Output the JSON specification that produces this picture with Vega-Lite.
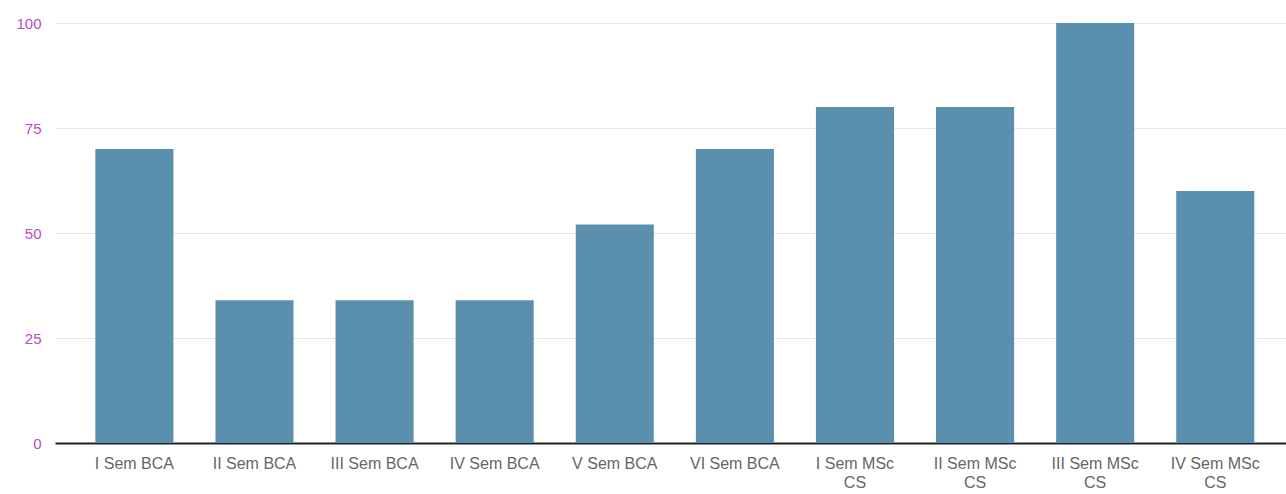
{
  "$schema": "https://vega.github.io/schema/vega-lite/v6.json",
  "width": 1231,
  "height": 420,
  "padding": {"left": 55, "top": 23, "right": 0, "bottom": 51},
  "autosize": {"type": "none"},
  "background": "white",
  "config": {"view": {"stroke": null}, "font": "Liberation Sans"},
  "data": {
    "values": [
      {"cls": "I Sem BCA", "value": 70},
      {"cls": "II Sem BCA", "value": 34},
      {"cls": "III Sem BCA", "value": 34},
      {"cls": "IV Sem BCA", "value": 34},
      {"cls": "V Sem BCA", "value": 52},
      {"cls": "VI Sem BCA", "value": 70},
      {"cls": "I Sem MSc CS", "value": 80},
      {"cls": "II Sem MSc CS", "value": 80},
      {"cls": "III Sem MSc CS", "value": 100},
      {"cls": "IV Sem MSc CS", "value": 60}
    ]
  },
  "mark": {"type": "bar", "color": "#5b8fae"},
  "encoding": {
    "x": {
      "field": "cls",
      "type": "nominal",
      "sort": null,
      "title": null,
      "scale": {"paddingInner": 0.35, "paddingOuter": 0.3, "align": 0.56},
      "axis": {
        "labelAngle": 0,
        "labelFontSize": 16,
        "labelColor": "#666666",
        "labelPadding": 12,
        "labelLineHeight": 19,
        "ticks": false,
        "domainColor": "#222222",
        "domainWidth": 2,
        "labelExpr": "indexof(datum.value, ' CS') > 0 ? [replace(datum.value, ' CS', ''), 'CS'] : datum.value"
      }
    },
    "y": {
      "field": "value",
      "type": "quantitative",
      "title": null,
      "scale": {"domain": [0, 100]},
      "axis": {
        "values": [0, 25, 50, 75, 100],
        "labelFontSize": 15,
        "labelColor": "#b84db8",
        "labelPadding": 14,
        "ticks": false,
        "domain": false,
        "gridColor": "#e6e6e6"
      }
    }
  }
}
